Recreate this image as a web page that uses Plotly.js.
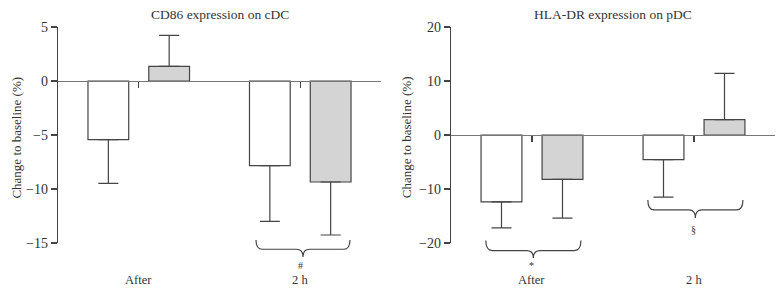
<!DOCTYPE html>
<html>
<head>
<meta charset="utf-8">
<script src="https://cdn.plot.ly/plotly-3.0.1.min.js"></script>
<style>html,body{margin:0;padding:0;background:#fff;}#chart{width:783px;height:292px;}</style>
</head>
<body>
<div id="chart"></div>
<script>
// ---- data ----
const categories = ["After", "2 h"];
const categoryLabels = ["After", "2 h"];

// CD86 expression on cDC
const cd86White = [-5.43, -7.83];
const cd86WhiteErr = [4.04, 5.17];
const cd86Gray = [1.36, -9.35];
const cd86GrayErr = [2.87, 4.91];

// HLA-DR expression on pDC
const hlaWhite = [-12.4, -4.56];
const hlaWhiteErr = [4.8, 6.94];
const hlaGray = [-8.2, 2.85];
const hlaGrayErr = [7.2, 8.55];

const titles = ["CD86 expression on cDC", "HLA-DR expression on pDC"];
const yTitle = "Change to baseline (%)";
const leftTicks = [5, 0, -5, -10, -15];
const rightTicks = [20, 10, 0, -10, -20];
const leftMarks = ["", "#"];
const rightMarks = ["*", "§"];

// ---- helpers ----
const FONT = "Liberation Serif, Times New Roman, serif";
const TXT = "#333";
const LINE = "#444";

function errs(vals, e) {
  return {
    type: "data", symmetric: false,
    array: vals.map((v, i) => v >= 0 ? e[i] : 0),
    arrayminus: vals.map((v, i) => v < 0 ? e[i] : 0),
    color: LINE, thickness: 1.2, width: 10
  };
}
function bar(vals, e, fill, xa, ya) {
  return {
    type: "bar", x: categories, y: vals, xaxis: xa, yaxis: ya,
    marker: {color: fill, line: {color: LINE, width: 1.2}},
    error_y: errs(vals, e), showlegend: false, hoverinfo: "skip"
  };
}

const data = [
  bar(cd86White, cd86WhiteErr, "#ffffff", "x", "y"),
  bar(cd86Gray, cd86GrayErr, "#d4d4d4", "x", "y"),
  bar(hlaWhite, hlaWhiteErr, "#ffffff", "x2", "y2"),
  bar(hlaGray, hlaGrayErr, "#d4d4d4", "x2", "y2")
];

function brace(xref, x0, x1, yt, yb, ytip) {
  const xc = (x0 + x1) / 2, d = 0.04;
  const p = `M ${x0},${yt} Q ${x0},${yb} ${x0 + d},${yb} L ${xc - d},${yb} Q ${xc},${yb} ${xc},${ytip} ` +
            `Q ${xc},${yb} ${xc + d},${yb} L ${x1 - d},${yb} Q ${x1},${yb} ${x1},${yt}`;
  return {type: "path", xref: xref, yref: "paper", path: p, line: {color: LINE, width: 1.2}};
}

function xaxisDef(domain, pos) {
  return {
    domain: domain, range: [-0.5, 1.5], type: "category",
    anchor: "free", position: pos,
    showline: true, linecolor: "#777", linewidth: 1.2,
    ticks: "outside", ticklen: 6, tickwidth: 1.4, tickcolor: LINE,
    showticklabels: false, showgrid: false, zeroline: false, fixedrange: true
  };
}
function yaxisDef(range, ticks, xanchor) {
  return {
    range: range, domain: [0, 1], anchor: xanchor,
    tickvals: ticks, ticks: "outside", ticklen: 6, tickcolor: LINE, tickwidth: 1.2,
    showline: true, linecolor: LINE, linewidth: 1.2,
    showgrid: false, zeroline: false,
    tickfont: {family: FONT, size: 14, color: TXT}, fixedrange: true
  };
}

const annotations = [];
const xs = ["x", "x2"];
const marks = [leftMarks, rightMarks];
const markY = [[-0.102, -0.102], [-0.105, 0.062]];
[0, 1].forEach(k => {
  annotations.push({xref: xs[k] + " domain", yref: "paper", x: 0.5, y: 1.06, text: titles[k],
    showarrow: false, font: {family: FONT, size: 13.5, color: TXT}, xanchor: "center", yanchor: "middle"});
  categories.forEach((c, i) => {
    annotations.push({xref: xs[k], yref: "paper", x: c, y: -0.171, text: categoryLabels[i],
      showarrow: false, font: {family: FONT, size: 12.5, color: TXT}, yanchor: "middle"});
    if (marks[k][i]) annotations.push({xref: xs[k], yref: "paper", x: c, y: markY[k][i], text: marks[k][i],
      showarrow: false, font: {family: FONT, size: 10, color: TXT}, yanchor: "middle"});
  });
});
annotations.push({xref: "paper", yref: "paper", x: -0.058, y: 0.49, text: yTitle, textangle: -90,
  showarrow: false, font: {family: FONT, size: 13, color: TXT}, xanchor: "center", yanchor: "middle"});
annotations.push({xref: "paper", yref: "paper", x: 0.4854, y: 0.49, text: yTitle, textangle: -90,
  showarrow: false, font: {family: FONT, size: 13, color: TXT}, xanchor: "center", yanchor: "middle"});

const shapes = [
  brace("x", 0.726, 1.308, 0.014, -0.029, -0.065),
  brace("x2", -0.285, 0.302, 0.011, -0.035, -0.069),
  brace("x2", 0.715, 1.302, 0.199, 0.153, 0.116)
];

const layout = {
  width: 783, height: 292,
  margin: {l: 58, r: 8, t: 27, b: 49},
  paper_bgcolor: "#fff", plot_bgcolor: "rgba(0,0,0,0)",
  barmode: "group", bargap: 0.247, bargroupgap: 0.33,
  xaxis: xaxisDef([0, 0.4505], 0.75),
  xaxis2: xaxisDef([0.5481, 1], 0.5),
  yaxis: yaxisDef([-15, 5], leftTicks, "x"),
  yaxis2: yaxisDef([-20, 20], rightTicks, "x2"),
  annotations: annotations, shapes: shapes,
  font: {family: FONT, color: TXT}
};

Plotly.newPlot("chart", data, layout, {displayModeBar: false, staticPlot: true});
</script>
</body>
</html>
